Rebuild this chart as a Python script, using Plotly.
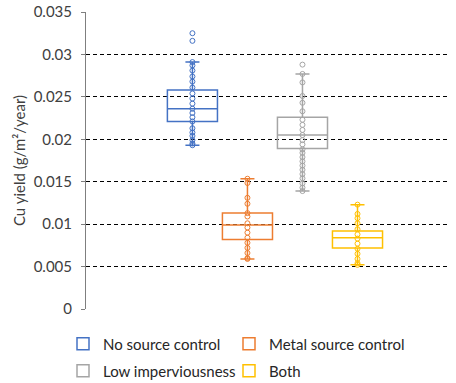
import plotly.graph_objects as go

names = ["No source control", "Metal source control", "Low imperviousness", "Both"]
colors = ["#4472C4", "#ED7D31", "#A5A5A5", "#FFC000"]
legend_ids = ["legend", "legend2", "legend3", "legend4"]

no_source = [0.0325, 0.0316, 0.0291, 0.0287, 0.0281, 0.0274, 0.0268, 0.0261, 0.0254,
             0.0248, 0.0242, 0.0236, 0.0231, 0.0226, 0.0221, 0.0213, 0.0208, 0.0204,
             0.0199, 0.0195, 0.0193]
metal_source = [0.01535, 0.01485, 0.0131, 0.0124, 0.0113, 0.0109, 0.0101, 0.0096, 0.0090,
                0.0084, 0.0078, 0.0072, 0.0066, 0.0060, 0.0059]
low_imperv = [0.0288, 0.0277, 0.0267, 0.0251, 0.0243, 0.0233, 0.0223, 0.0217, 0.0211,
              0.0205, 0.0199, 0.0194, 0.0188, 0.0184, 0.0179, 0.0174, 0.0169, 0.0164,
              0.0159, 0.0154, 0.0148, 0.0143, 0.0139]
both = [0.0123, 0.0112, 0.0107, 0.0101, 0.0094, 0.0088, 0.0083, 0.0077, 0.0071,
        0.0065, 0.0059, 0.0054, 0.0052]

samples = [no_source, metal_source, low_imperv, both]
q1 = [0.0221, 0.0082, 0.0189, 0.0072]
median = [0.0236, 0.0099, 0.0205, 0.0084]
q3 = [0.0258, 0.0113, 0.0226, 0.0092]
lower_whisker = [0.0193, 0.0059, 0.0139, 0.0052]
upper_whisker = [0.0291, 0.01535, 0.0277, 0.0123]

y_ticks = [0, 0.005, 0.01, 0.015, 0.02, 0.025, 0.03, 0.035]
y_ticktext = ["0", "0.005", "0.01", "0.015", "0.02", "0.025", "0.03", "0.035"]

fig = go.Figure()
for i in range(4):
    fig.add_trace(go.Box(
        name=names[i],
        legend=legend_ids[i],
        x=[0],
        q1=[q1[i]], median=[median[i]], q3=[q3[i]],
        lowerfence=[lower_whisker[i]], upperfence=[upper_whisker[i]],
        y=[samples[i]],
        boxpoints="all", jitter=0, pointpos=0,
        whiskerwidth=0.28,
        fillcolor="rgba(255,255,255,0)",
        line=dict(color=colors[i], width=1.5),
        marker=dict(symbol="circle-open", size=5, color=colors[i],
                    line=dict(width=1, color=colors[i])),
    ))

font_family = "Lato, 'Open Sans', sans-serif"
leg_common = dict(orientation="h", xref="container", yref="container",
                  xanchor="left", yanchor="middle",
                  font=dict(size=15, color="#262626"), bgcolor="rgba(0,0,0,0)")
col_x = [63.0 / 456, 229.0 / 456]
row_y = [1 - 344 / 383, 1 - 371 / 383]
fig.update_layout(
    width=456, height=383,
    margin=dict(l=86, r=8, t=12, b=74, autoexpand=False),
    paper_bgcolor="white", plot_bgcolor="white",
    boxmode="group", boxgap=0.392, boxgroupgap=0.09,
    font=dict(family=font_family, size=14, color="#404040"),
    showlegend=True,
    legend=dict(leg_common, x=col_x[0], y=row_y[0]),
    legend2=dict(leg_common, x=col_x[1], y=row_y[0]),
    legend3=dict(leg_common, x=col_x[0], y=row_y[1]),
    legend4=dict(leg_common, x=col_x[1], y=row_y[1]),
    xaxis=dict(range=[-0.522, 0.478], showgrid=False, zeroline=False, showline=False,
               showticklabels=False, ticks="", fixedrange=True, automargin=False),
    yaxis=dict(range=[0, 0.035], tickvals=y_ticks, ticktext=y_ticktext, automargin=False,
               showgrid=True, gridcolor="#000000", gridwidth=1, griddash="4px,3px",
               zeroline=False, showline=True, linecolor="#7f7f7f", linewidth=1,
               ticks="outside", ticklen=4, tickcolor="#7f7f7f",
               ticklabelstandoff=6,
               tickfont=dict(size=15, color="#404040"),
               title=dict(text="Cu yield (g/m²/year)", standoff=4,
                          font=dict(size=15, color="#404040"))),
)

fig.write_html("out.html")
